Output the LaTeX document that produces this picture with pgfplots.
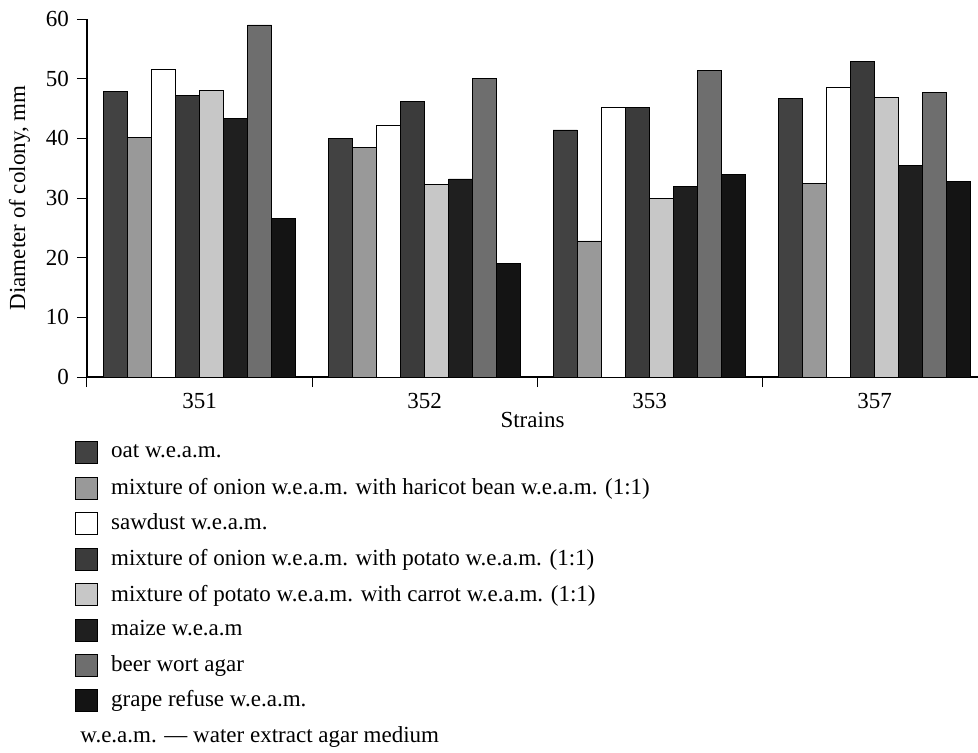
\documentclass[border=0pt]{standalone}
\usepackage{fontspec}
\setmainfont{Liberation Serif}
\usepackage{pgfplots}
\pgfplotsset{compat=1.18}
\usetikzlibrary{calc}

\begin{document}
\fontsize{11.5}{13.8}\selectfont
\begin{tikzpicture}
  \begin{axis}[
      name=ax,
      width=445.5pt, height=179pt, scale only axis,
      ybar=0pt, bar width=0.107,
      xmin=-0.5, xmax=3.46, ymin=0, ymax=60,
      axis lines=left,
      axis line style={-, line width=0.6pt},
      xtick={0,1,2,3}, xticklabels={351,352,353,357},
      minor xtick={-0.5,0.5,1.5,2.5},
      major x tick style={draw=none},
      minor x tick style={black, line width=0.5pt},
      ytick={0,10,...,60},
      tick align=outside,
      major tick length=5pt, minor tick length=5pt,
      tick style={black, line width=0.5pt},
      every tick label/.append style={font=\fontsize{11.5}{13.8}\selectfont},
      xticklabel style={yshift=1pt},
      /pgf/number format/assume math mode=true,
      ylabel={Diameter of colony, mm},
      xlabel={Strains},
      label style={font=\fontsize{11.5}{13.8}\selectfont},
      xlabel style={yshift=6pt},
      legend style={draw=none, fill=none, at={(rel axis cs:0,0)}, anchor=north west,
        xshift=-9pt, yshift=-30pt, row sep=6pt, column sep=5.5pt, nodes={inner sep=1pt},
        font=\fontsize{11.5}{13.8}\selectfont},
      legend cell align=left,
      legend image code/.code={\draw[#1, draw=black, line width=0.4pt] (0pt,-5.5pt) rectangle (11pt,5.5pt);},
    ]

    % oat
    \addplot[fill=black!74, draw=black] coordinates {(0,47.8) (1,40.0) (2,41.4) (3,46.7)};
    \addlegendentry{oat w.e.a.m.}
    % onion + haricot bean
    \addplot[fill=black!40, draw=black] coordinates {(0,40.1) (1,38.5) (2,22.8) (3,32.4)};
    \addlegendentry{mixture of onion w.e.a.m. with haricot bean w.e.a.m. (1:1)}
    % sawdust
    \addplot[fill=white, draw=black] coordinates {(0,51.6) (1,42.2) (2,45.2) (3,48.5)};
    \addlegendentry{sawdust w.e.a.m.}
    % onion + potato
    \addplot[fill=black!77, draw=black] coordinates {(0,47.2) (1,46.2) (2,45.2) (3,52.9)};
    \addlegendentry{mixture of onion w.e.a.m. with potato w.e.a.m. (1:1)}
    % potato + carrot
    \addplot[fill=black!22, draw=black] coordinates {(0,48.0) (1,32.2) (2,29.9) (3,46.9)};
    \addlegendentry{mixture of potato w.e.a.m. with carrot w.e.a.m. (1:1)}
    % maize
    \addplot[fill=black!88, draw=black] coordinates {(0,43.4) (1,33.2) (2,32.0) (3,35.5)};
    \addlegendentry{maize w.e.a.m}
    % beer wort
    \addplot[fill=black!57, draw=black] coordinates {(0,59.0) (1,50.0) (2,51.4) (3,47.7)};
    \addlegendentry{beer wort agar}
    % grape refuse
    \addplot[fill=black!92, draw=black] coordinates {(0,26.6) (1,19.0) (2,34.0) (3,32.7)};
    \addlegendentry{grape refuse w.e.a.m.}
  \end{axis}

  \node[anchor=west, inner sep=0pt] at ($(ax.south west)+(-3.5pt,-180pt)$)
    {w.e.a.m. --- water extract agar medium};

  \pgfresetboundingbox
  \path ($(ax.south west)+(-43.5pt,-188pt)$) rectangle ($(ax.south west)+(445.5pt,188.5pt)$);
\end{tikzpicture}
\end{document}
